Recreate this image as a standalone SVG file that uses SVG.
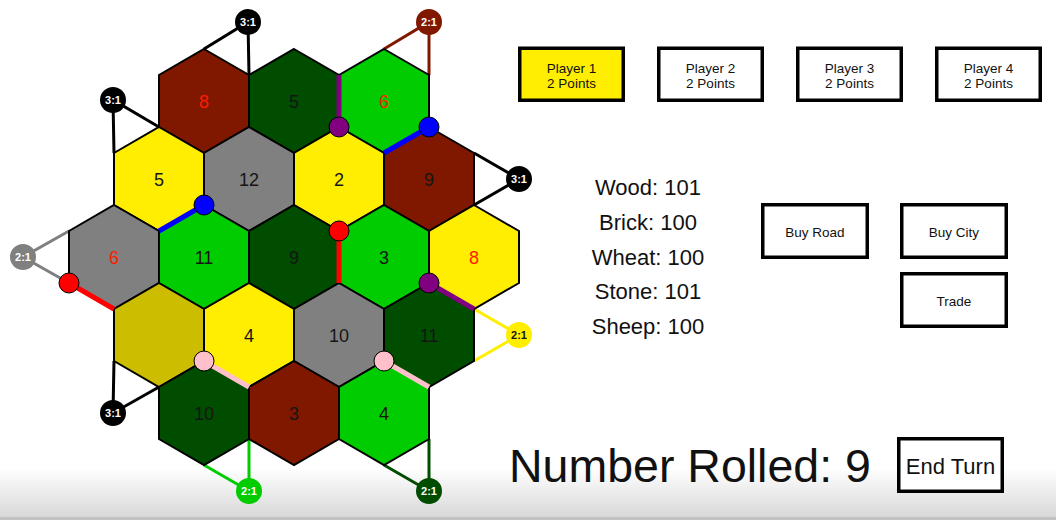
<svg xmlns="http://www.w3.org/2000/svg" xmlns:xlink="http://www.w3.org/1999/xlink" width="1056" height="520" viewBox="0 0 1056 520">
<style>
.hex{stroke:#000;stroke-width:2;stroke-linejoin:miter}
.brick{fill:#801800}.forest{fill:#004d00}.pasture{fill:#00cc00}.wheat{fill:#ffee00}.stone{fill:#808080}.desert{fill:#cdbd00}
.num{font-family:"Liberation Sans",Arial,sans-serif;font-size:18px;fill:#151515;text-anchor:middle}
.num.hot{fill:#ff1a00}
.pl{stroke-width:3;fill:none}
.port text{font-family:"Liberation Sans",Arial,sans-serif;font-size:11px;font-weight:bold;fill:#fff;text-anchor:middle}
.road{stroke-width:5;stroke-linecap:butt;fill:none}
.stl{stroke:#000;stroke-width:1}
.box{fill:#fff;stroke:#000;stroke-width:3.5}
.btxt{font-family:"Liberation Sans",Arial,sans-serif;font-size:13.5px;fill:#111;text-anchor:middle}
.res{font-family:"Liberation Sans",Arial,sans-serif;font-size:22px;fill:#111;text-anchor:middle}
</style>
<defs>
<polygon id="hx" points="0,-52 45,-26 45,26 0,52 -45,26 -45,-26"/>
<linearGradient id="bot" x1="0" y1="0" x2="0" y2="1">
<stop offset="0" stop-color="#ffffff"/>
<stop offset="1" stop-color="#d8d8d8"/>
</linearGradient>
</defs>
<rect x="0" y="0" width="1056" height="520" fill="#fff"/>
<rect x="0" y="468" width="1056" height="49" fill="url(#bot)"/>
<rect x="0" y="517" width="1056" height="3" fill="#c2c2c2"/>

<g id="port-lines">
<g stroke="#000" class="pl">
<polyline points="204,49 248,22 249,75"/>
<polyline points="159,127 113,100 114,153"/>
<polyline points="474,153 519,179 474,205"/>
<polyline points="114,361 113,413 159,387"/>
</g>
<polyline class="pl" stroke="#801800" points="384,49 429,22 429,75"/>
<polyline class="pl" stroke="#808080" points="69,231 23,257 69,283"/>
<polyline class="pl" stroke="#00cc00" points="204,465 249,491 249,439"/>
<polyline class="pl" stroke="#004d00" points="384,465 429,491 429,439"/>
<polyline class="pl" stroke="#ffee00" points="474,309 519,335 474,361"/>
</g>

<g id="board">
<g id="hex-r1c1"><use xlink:href="#hx" x="204" y="101" class="hex brick"/><text class="num hot" x="204" y="108">8</text></g>
<g id="hex-r1c2"><use xlink:href="#hx" x="294" y="101" class="hex forest"/><text class="num" x="294" y="108">5</text></g>
<g id="hex-r1c3"><use xlink:href="#hx" x="384" y="101" class="hex pasture"/><text class="num hot" x="384" y="108">6</text></g>
<g id="hex-r2c1"><use xlink:href="#hx" x="159" y="179" class="hex wheat"/><text class="num" x="159" y="186">5</text></g>
<g id="hex-r2c2"><use xlink:href="#hx" x="249" y="179" class="hex stone"/><text class="num" x="249" y="186">12</text></g>
<g id="hex-r2c3"><use xlink:href="#hx" x="339" y="179" class="hex wheat"/><text class="num" x="339" y="186">2</text></g>
<g id="hex-r2c4"><use xlink:href="#hx" x="429" y="179" class="hex brick"/><text class="num" x="429" y="186">9</text></g>
<g id="hex-r3c1"><use xlink:href="#hx" x="114" y="257" class="hex stone"/><text class="num hot" x="114" y="264">6</text></g>
<g id="hex-r3c2"><use xlink:href="#hx" x="204" y="257" class="hex pasture"/><text class="num" x="204" y="264">11</text></g>
<g id="hex-r3c3"><use xlink:href="#hx" x="294" y="257" class="hex forest"/><text class="num" x="294" y="264">9</text></g>
<g id="hex-r3c4"><use xlink:href="#hx" x="384" y="257" class="hex pasture"/><text class="num" x="384" y="264">3</text></g>
<g id="hex-r3c5"><use xlink:href="#hx" x="474" y="257" class="hex wheat"/><text class="num hot" x="474" y="264">8</text></g>
<g id="hex-r4c1"><use xlink:href="#hx" x="159" y="335" class="hex desert"/></g>
<g id="hex-r4c2"><use xlink:href="#hx" x="249" y="335" class="hex wheat"/><text class="num" x="249" y="342">4</text></g>
<g id="hex-r4c3"><use xlink:href="#hx" x="339" y="335" class="hex stone"/><text class="num" x="339" y="342">10</text></g>
<g id="hex-r4c4"><use xlink:href="#hx" x="429" y="335" class="hex forest"/><text class="num" x="429" y="342">11</text></g>
<g id="hex-r5c1"><use xlink:href="#hx" x="204" y="413" class="hex forest"/><text class="num" x="204" y="420">10</text></g>
<g id="hex-r5c2"><use xlink:href="#hx" x="294" y="413" class="hex brick"/><text class="num" x="294" y="420">3</text></g>
<g id="hex-r5c3"><use xlink:href="#hx" x="384" y="413" class="hex pasture"/><text class="num" x="384" y="420">4</text></g>
</g>

<g id="ports">
<g id="port1" class="port"><circle cx="248" cy="22" r="13" fill="#000"/><text x="248" y="26">3:1</text></g>
<g id="port2" class="port"><circle cx="113" cy="100" r="13" fill="#000"/><text x="113" y="104">3:1</text></g>
<g id="port3" class="port"><circle cx="429" cy="22" r="13" fill="#801800"/><text x="429" y="26">2:1</text></g>
<g id="port4" class="port"><circle cx="519" cy="179" r="13" fill="#000"/><text x="519" y="183">3:1</text></g>
<g id="port5" class="port"><circle cx="23" cy="257" r="13" fill="#808080"/><text x="23" y="261">2:1</text></g>
<g id="port6" class="port"><circle cx="113" cy="413" r="13" fill="#000"/><text x="113" y="417">3:1</text></g>
<g id="port7" class="port"><circle cx="249" cy="491" r="13" fill="#00cc00"/><text x="249" y="495">2:1</text></g>
<g id="port8" class="port"><circle cx="429" cy="491" r="13" fill="#004d00"/><text x="429" y="495">2:1</text></g>
<g id="port9" class="port"><circle cx="519" cy="335" r="13" fill="#ffee00"/><text x="519" y="339" style="fill:#111">2:1</text></g>
</g>

<g id="roads">
<line class="road" stroke="#800080" x1="339" y1="75" x2="339" y2="127"/>
<line class="road" stroke="#0000ff" x1="384" y1="153" x2="429" y2="127"/>
<line class="road" stroke="#0000ff" x1="159" y1="231" x2="204" y2="205"/>
<line class="road" stroke="#ff0000" x1="339" y1="231" x2="339" y2="283"/>
<line class="road" stroke="#ff0000" x1="69" y1="283" x2="114" y2="309"/>
<line class="road" stroke="#800080" x1="429" y1="283" x2="474" y2="309"/>
<line class="road" stroke="#ffc0cb" x1="204" y1="361" x2="249" y2="387"/>
<line class="road" stroke="#ffc0cb" x1="384" y1="361" x2="429" y2="387"/>
</g>

<g id="settlements">
<circle class="stl" cx="339" cy="127" r="10" fill="#800080"/>
<circle class="stl" cx="429" cy="127" r="10" fill="#0000ff"/>
<circle class="stl" cx="204" cy="205" r="10" fill="#0000ff"/>
<circle class="stl" cx="339" cy="231" r="10" fill="#ff0000"/>
<circle class="stl" cx="69" cy="283" r="10" fill="#ff0000"/>
<circle class="stl" cx="429" cy="283" r="10" fill="#800080"/>
<circle class="stl" cx="204" cy="361" r="10" fill="#ffc0cb"/>
<circle class="stl" cx="384" cy="361" r="10" fill="#ffc0cb"/>
</g>

<g id="player1"><rect class="box" x="519.75" y="48.25" width="103.5" height="52" style="fill:#ffee00"/><text class="btxt" x="571.5" y="72.5">Player 1</text><text class="btxt" x="571.5" y="87.5">2 Points</text></g>
<g id="player2"><rect class="box" x="658.75" y="48.25" width="103.5" height="52"/><text class="btxt" x="710.5" y="72.5">Player 2</text><text class="btxt" x="710.5" y="87.5">2 Points</text></g>
<g id="player3"><rect class="box" x="797.75" y="48.25" width="103.5" height="52"/><text class="btxt" x="849.5" y="72.5">Player 3</text><text class="btxt" x="849.5" y="87.5">2 Points</text></g>
<g id="player4"><rect class="box" x="936.75" y="48.25" width="103.5" height="52"/><text class="btxt" x="988.5" y="72.5">Player 4</text><text class="btxt" x="988.5" y="87.5">2 Points</text></g>

<g id="resources">
<text class="res" x="648" y="195">Wood: 101</text>
<text class="res" x="648" y="229.5">Brick: 100</text>
<text class="res" x="648" y="264.5">Wheat: 100</text>
<text class="res" x="648" y="299">Stone: 101</text>
<text class="res" x="648" y="334">Sheep: 100</text>
</g>

<g id="buy-road"><rect class="box" x="762.75" y="204.75" width="104.5" height="52.5"/><text class="btxt" x="815" y="236.5">Buy Road</text></g>
<g id="buy-city"><rect class="box" x="901.75" y="204.75" width="104.5" height="52.5"/><text class="btxt" x="954" y="236.5">Buy City</text></g>
<g id="trade"><rect class="box" x="901.75" y="273.75" width="104.5" height="52.5"/><text class="btxt" x="954" y="305.5">Trade</text></g>

<g id="rolled"><text x="509" y="482" font-family="Liberation Sans, Arial, sans-serif" font-size="46.5" fill="#111">Number Rolled: 9</text></g>
<g id="end-turn"><rect class="box" x="898.75" y="438.75" width="103.5" height="52.5"/><text x="950.5" y="473.5" font-family="Liberation Sans, Arial, sans-serif" font-size="22" fill="#111" text-anchor="middle">End Turn</text></g>
</svg>
